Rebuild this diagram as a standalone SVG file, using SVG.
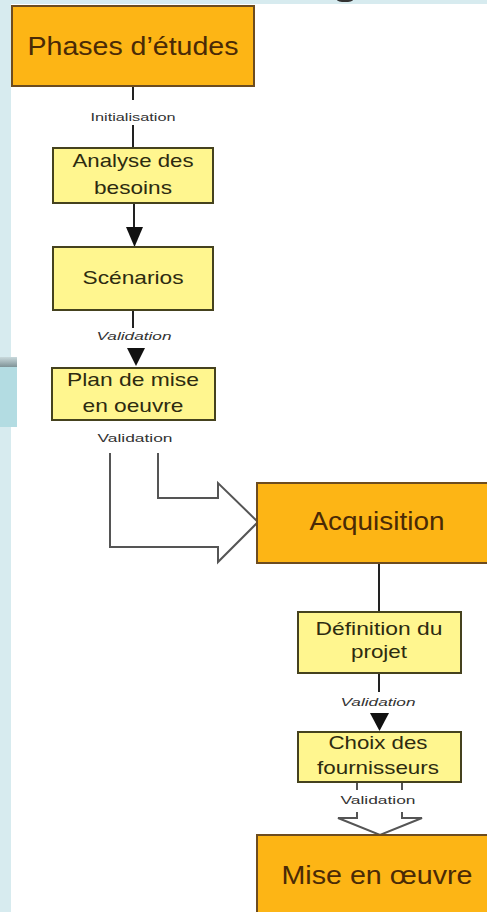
<svg xmlns="http://www.w3.org/2000/svg" width="487" height="912" viewBox="0 0 487 912">
<style>
text{font-family:"Liberation Sans",Arial,sans-serif;text-anchor:middle}
.orange rect{fill:#FDB515;stroke:#6d4c1f;stroke-width:2}
.orange text{fill:#4a2a06;font-size:25px}
.yellow rect{fill:#FFF68F;stroke:#45421e;stroke-width:2}
.yellow text{fill:#2d2b10;font-size:19px}
.lbl{fill:#333;font-size:11px}
.it{font-style:italic}
.ln{stroke:#222;stroke-width:2;fill:none}
.hollow{stroke:#555;stroke-width:2;fill:none}
.head{fill:#111}
</style>
<defs>
<linearGradient id="sh" x1="0" y1="0" x2="0" y2="1">
<stop offset="0" stop-color="#c9d9dc"/>
<stop offset="1" stop-color="#7f9397"/>
</linearGradient>
</defs>
<rect x="0" y="0" width="487" height="912" fill="#d7ebef"/>
<rect x="11" y="4" width="476" height="908" fill="#ffffff"/>
<rect x="0" y="357" width="17" height="10" fill="url(#sh)"/>
<rect x="0" y="367" width="17" height="60" fill="#b3dce2"/>
<ellipse cx="345" cy="0" rx="8" ry="2" fill="#333"/>

<g id="connectors">
<line class="ln" x1="133" y1="86" x2="133" y2="100"/>
<text class="lbl" x="133" y="121" textLength="85" lengthAdjust="spacingAndGlyphs">Initialisation</text>
<line class="ln" x1="133" y1="125" x2="133" y2="148"/>

<line class="ln" x1="134" y1="203" x2="134" y2="230"/>
<polygon class="head" points="126,227 143,227 134.5,247"/>

<line class="ln" x1="133" y1="310" x2="133" y2="328"/>
<text class="lbl it" x="134" y="340" textLength="75" lengthAdjust="spacingAndGlyphs">Validation</text>
<polygon class="head" points="127,348 145,348 136,366"/>

<text class="lbl" x="135" y="442" textLength="75" lengthAdjust="spacingAndGlyphs">Validation</text>
<path class="hollow" d="M110,453 V547 H218 V562 L258,522 L218,483 V498 H158 V453"/>

<line class="ln" x1="379" y1="563" x2="379" y2="612"/>

<line class="ln" x1="379" y1="673" x2="379" y2="692"/>
<text class="lbl it" x="378" y="706" textLength="75" lengthAdjust="spacingAndGlyphs">Validation</text>
<polygon class="head" points="370,713 389,713 379.5,731"/>

<line class="hollow" x1="357" y1="782" x2="357" y2="790" stroke="#999"/>
<line class="hollow" x1="402" y1="782" x2="402" y2="790" stroke="#999"/>
<text class="lbl" x="378" y="804" textLength="75" lengthAdjust="spacingAndGlyphs">Validation</text>
<path class="hollow" d="M357,812 V818 H338 L380,835 L422,818 H402 V812"/>
</g>

<g id="phases" class="orange">
<rect x="12" y="6" width="242" height="80"/>
<text x="133" y="55" style="font-size:26px" textLength="211" lengthAdjust="spacingAndGlyphs">Phases d’études</text>
</g>

<g id="analyse" class="yellow">
<rect x="53" y="148" width="160" height="55"/>
<text x="133" y="167" textLength="121" lengthAdjust="spacingAndGlyphs">Analyse des</text>
<text x="133" y="194" textLength="78" lengthAdjust="spacingAndGlyphs">besoins</text>
</g>

<g id="scenarios" class="yellow">
<rect x="53" y="247" width="160" height="63"/>
<text x="133" y="284" textLength="101" lengthAdjust="spacingAndGlyphs">Scénarios</text>
</g>

<g id="plan" class="yellow">
<rect x="52" y="368" width="163" height="52"/>
<text x="133" y="386" textLength="132" lengthAdjust="spacingAndGlyphs">Plan de mise</text>
<text x="133" y="412" textLength="101" lengthAdjust="spacingAndGlyphs">en oeuvre</text>
</g>

<g id="acquisition" class="orange">
<rect x="257" y="483" width="260" height="80"/>
<text x="377" y="530" textLength="135" lengthAdjust="spacingAndGlyphs">Acquisition</text>
</g>

<g id="definition" class="yellow">
<rect x="298" y="612" width="163" height="61"/>
<text x="379" y="635" textLength="127" lengthAdjust="spacingAndGlyphs">Définition du</text>
<text x="379" y="658" textLength="56" lengthAdjust="spacingAndGlyphs">projet</text>
</g>

<g id="choix" class="yellow">
<rect x="298" y="732" width="163" height="50"/>
<text x="378" y="749" textLength="99" lengthAdjust="spacingAndGlyphs">Choix des</text>
<text x="378" y="774" textLength="122" lengthAdjust="spacingAndGlyphs">fournisseurs</text>
</g>

<g id="mise" class="orange">
<rect x="257" y="835" width="260" height="100"/>
<text x="377" y="884" textLength="191" lengthAdjust="spacingAndGlyphs">Mise en œuvre</text>
</g>
</svg>
